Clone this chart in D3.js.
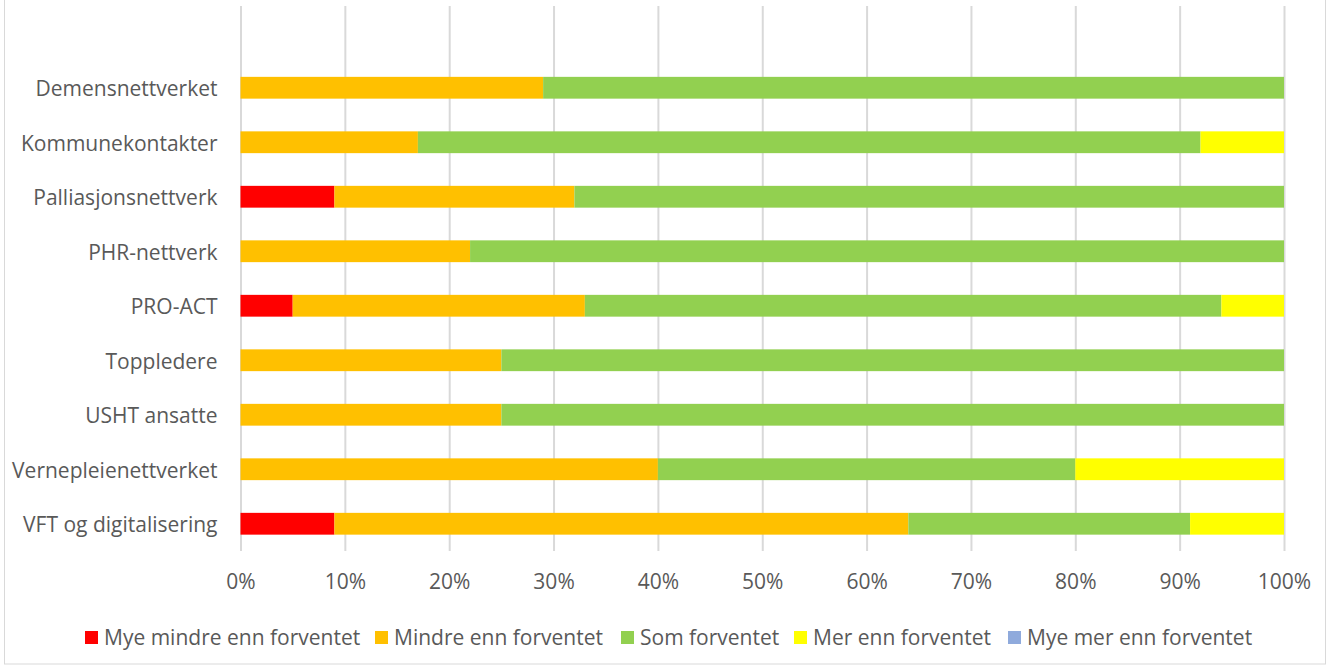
<!DOCTYPE html>
<html>
<head>
<meta charset="utf-8">
<script src="https://cdnjs.cloudflare.com/ajax/libs/d3/7.8.5/d3.min.js"></script>
<style>
	body { margin: 0; background: #fff; }
	text { font-family: 'Open Sans', Lato, sans-serif; fill: #595959; }
</style>
</head>
<body>
<div id="chart"></div>
<script>
let width = 1330
let height = 670

// top row is an empty slot in the original chart
let categories = ['', 'Demensnettverket', 'Kommunekontakter', 'Palliasjonsnettverk', 'PHR-nettverk',
	'PRO-ACT', 'Toppledere', 'USHT ansatte', 'Vernepleienettverket', 'VFT og digitalisering']

let seriesNames = ['Mye mindre enn forventet', 'Mindre enn forventet', 'Som forventet', 'Mer enn forventet', 'Mye mer enn forventet']
let seriesColors = ['#ff0000', '#ffc000', '#92d050', '#ffff00', '#8faadc']

let myeMindre = [0, 0, 0, 9, 0, 5, 0, 0, 0, 9]
let mindre = [0, 29, 17, 23, 22, 28, 25, 25, 40, 55]
let som = [0, 71, 75, 68, 78, 61, 75, 75, 40, 27]
let mer = [0, 0, 8, 0, 0, 6, 0, 0, 20, 9]
let myeMer = [0, 0, 0, 0, 0, 0, 0, 0, 0, 0]

let xTicks = [0, 10, 20, 30, 40, 50, 60, 70, 80, 90, 100]

let margins = {
	'top': 6,
	'left': 240.5,
	'right': 46,
	'bottom': 119,
}

let fontSize = 21

let rows = categories.map((c, i) => {
	let r = { cat: c }
	r[seriesNames[0]] = myeMindre[i]
	r[seriesNames[1]] = mindre[i]
	r[seriesNames[2]] = som[i]
	r[seriesNames[3]] = mer[i]
	r[seriesNames[4]] = myeMer[i]
	return r
})

let xScale = d3.scaleLinear()
	.domain([0, 100])
	.range([margins.left, width - margins.right])

let yScale = d3.scaleBand()
	.domain(categories)
	.range([margins.top, height - margins.bottom])
	.paddingInner(0.6)
	.paddingOuter(0.3)

let colorScale = d3.scaleOrdinal()
	.domain(seriesNames)
	.range(seriesColors)

let svg = d3.select('#chart').append('svg')
	.attr('width', width)
	.attr('height', height)

// chart frame
svg.append('rect')
	.attr('x', 4.5).attr('y', -10)
	.attr('width', 1321).attr('height', height + 4)
	.attr('fill', 'none')
	.attr('stroke', '#d9d9d9')

// grid
let xAxis = d3.axisBottom(xScale)
	.tickValues(xTicks)
	.tickSize(-(height - margins.bottom - margins.top))
	.tickPadding(23)
	.tickFormat(d => d + '%')

let gx = svg.append('g')
	.attr('transform', `translate(0,${height - margins.bottom})`)
	.call(xAxis)
gx.select('.domain').remove()
gx.selectAll('line').attr('stroke', '#d9d9d9').attr('stroke-width', 2)
gx.selectAll('text').attr('font-size', fontSize).style('font-family', null)

let yAxis = d3.axisLeft(yScale)
	.tickSize(0)
	.tickPadding(23)
let gy = svg.append('g')
	.attr('transform', `translate(${margins.left},2)`)
	.call(yAxis)
gy.select('.domain').remove()
gy.selectAll('text').attr('font-size', fontSize).style('font-family', null)

// bars
let stacked = d3.stack().keys(seriesNames)(rows)

svg.append('g').selectAll('g')
	.data(stacked)
	.enter().append('g')
	.attr('fill', d => colorScale(d.key))
	.selectAll('rect')
	.data(d => d)
	.enter().append('rect')
	.attr('x', d => xScale(d[0]))
	.attr('y', d => yScale(d.data.cat))
	.attr('width', d => xScale(d[1]) - xScale(d[0]))
	.attr('height', yScale.bandwidth())

// legend
let legendX = [85, 375, 621, 794, 1008]
let legend = svg.append('g').selectAll('g')
	.data(seriesNames)
	.enter().append('g')
	.attr('transform', (d, i) => `translate(${legendX[i]},637)`)

legend.append('rect')
	.attr('x', 0).attr('y', -6)
	.attr('width', 13).attr('height', 13)
	.attr('fill', d => colorScale(d))

legend.append('text')
	.attr('x', 19).attr('y', 1)
	.attr('dy', '0.35em')
	.attr('font-size', fontSize)
	.text(d => d)
</script>
</body>
</html>
